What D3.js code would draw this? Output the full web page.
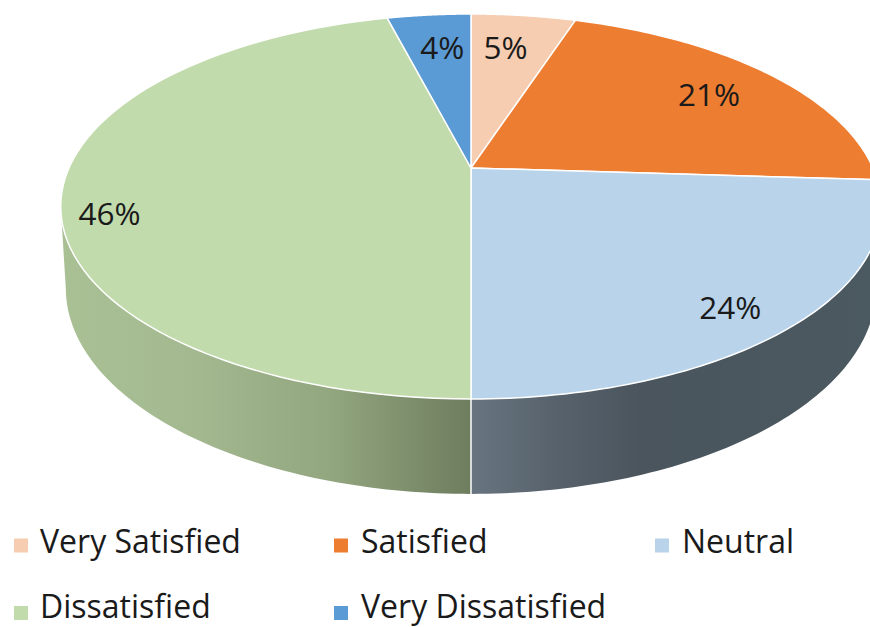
<!DOCTYPE html>
<html><head><meta charset="utf-8">
<script src="https://cdn.jsdelivr.net/npm/d3@7"></script>
<style>html,body{margin:0;padding:0;background:#fff}svg{display:block}text{font-family:"Open Sans","Noto Sans",sans-serif;fill:#1a1a1a}</style>
</head><body><svg id="c" width="870" height="627"></svg>
<script>
const categories=["Very Satisfied","Satisfied","Neutral","Dissatisfied","Very Dissatisfied"];
const values=[5,21,24,46,4];
const labels=["5%","21%","24%","46%","4%"];
const colors=["#f6cdb0","#ed7d31","#b9d4ea","#c2dbad","#5b9bd5"];
const labelNudge=[[-9,6],[-6,3],[10,18],[-36,27],[6,7]];
const legendPos=[[14,545.5,553],[334,545.5,553],[655,545.5,553],[14,613,617.5],[334,613,617.5]];

const cx=471,cy=168,a=402,b=184.8,k=0.2;
const svg=d3.select("#c");
const defs=svg.append("defs");
const projWith=(t,r,A,B,C)=>{const u=Math.sin(t)*r,w=-Math.cos(t)*r,d=1-k*w;return [cx+A*u/d,C+B*w/d];};
const proj=(t,r=1)=>projWith(t,r,a,b,cy);
const projLow=t=>projWith(t,1,397,197.5,247);
const arcs=d3.pie().sort(null).value(d=>d)(values);
const ts=(s,e)=>d3.range(0,81).map(i=>s+(e-s)*i/80);
const line=d3.line();

function grad(id,stops){const g=defs.append("linearGradient").attr("id",id).attr("gradientUnits","userSpaceOnUse").attr("x1",63).attr("x2",870).attr("y1",0).attr("y2",0);
 stops.forEach(s=>g.append("stop").attr("offset",(s[0]-63)/807).attr("stop-color",s[1]));return `url(#${id})`;}
const sideFills={2:grad("gr",[[471,"#68747f"],[560,"#56616b"],[640,"#4a555e"],[870,"#4b5960"]]),
                 3:grad("gg",[[63,"#a9c095"],[200,"#a3b88f"],[330,"#92a67f"],[471,"#6e7d5e"]])};
// side walls: only the part of the rim that faces the viewer
const lo=Math.acos(-k), hi=2*Math.PI-lo;
[2,3].forEach(i=>{const s=arcs[i];
 const t=ts(Math.max(s.startAngle,lo),Math.min(s.endAngle,hi));
 const poly=t.map(v=>proj(v)).concat(t.slice().reverse().map(projLow));
 svg.append("path").attr("d",line(poly)+"Z").attr("fill",sideFills[i]);
});
// seam between the two walls
const bp=proj(Math.PI),bq=projLow(Math.PI);
svg.append("line").attr("x1",bp[0]).attr("x2",bq[0]).attr("y1",bp[1]).attr("y2",bq[1]).attr("stroke","#fff").attr("stroke-width",1.5);
// top faces
arcs.forEach((s,i)=>{
 const rim=ts(s.startAngle,s.endAngle).map(v=>proj(v));
 svg.append("path").attr("d",line([[cx,cy]].concat(rim))+"Z")
  .attr("fill",colors[i]).attr("stroke","#fff").attr("stroke-width",1.5).attr("stroke-linejoin","round");
});
// data labels
arcs.forEach((s,i)=>{const p=proj((s.startAngle+s.endAngle)/2,0.8);
 svg.append("text").attr("x",p[0]+labelNudge[i][0]).attr("y",p[1]+labelNudge[i][1]).attr("dy","0.35em")
  .attr("text-anchor","middle").attr("font-size",31.5).text(labels[i]);
});
// legend
categories.forEach((c,i)=>{const [x,yc,yb]=legendPos[i];
 svg.append("rect").attr("x",x).attr("y",yc-7).attr("width",14).attr("height",14).attr("fill",colors[i]);
 svg.append("text").attr("x",x+(i%3===0&&x<20?26:27)).attr("y",yb).attr("font-size",32).text(c);
});
</script></body></html>
